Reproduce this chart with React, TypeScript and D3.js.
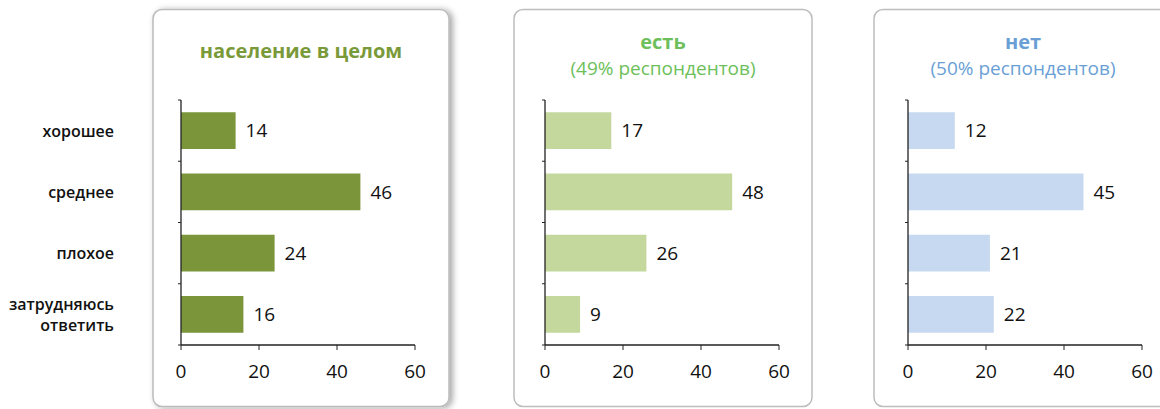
import React from "react";
import * as d3 from "d3";

const categories = ["хорошее", "среднее", "плохое", "затрудняюсь ответить"];
const totalValues = [14, 46, 24, 16];
const yesValues = [17, 48, 26, 9];
const noValues = [12, 45, 21, 22];
const xTicks = [0, 20, 40, 60];

const panels = [
  { title: "население в целом", sub: "", values: totalValues, color: "#7a953a", titleColor: "#7a9a3a", box: [153, 449], x0: 181, shadow: true },
  { title: "есть", sub: "(49% респондентов)", values: yesValues, color: "#c4d89e", titleColor: "#6cbf5a", box: [514, 812], x0: 545, shadow: false },
  { title: "нет", sub: "(50% респондентов)", values: noValues, color: "#c6d9f0", titleColor: "#6a9fd6", box: [874, 1180], x0: 908, shadow: false },
];

const font = "'Open Sans', 'Noto Sans', sans-serif";
const top = 100;
const bottom = 345;
const plotW = 234;

function Panel({ p }) {
  const x = d3.scaleLinear().domain([0, 60]).range([p.x0, p.x0 + plotW]);
  const y = d3.scaleBand().domain(categories).range([top, bottom]).paddingInner(0.4).paddingOuter(0.2);
  const cx = (p.box[0] + Math.min(p.box[1], 1170)) / 2;
  const bounds = d3.range(categories.length + 1).map(i => top + (i * (bottom - top)) / categories.length);
  return (
    <g>
      <rect x={p.box[0]} y={9.5} width={p.box[1] - p.box[0]} height={397} rx={9}
        fill="#fff" stroke={p.shadow ? "#bbb" : "#bdbdbd"} strokeWidth={1.5}
        filter={p.shadow ? "url(#shadow)" : undefined} />
      {p.sub ? (
        <g fill={p.titleColor} fontFamily={font} textAnchor="middle">
          <text x={p.box[0] + 149} y={49} fontSize={20} fontWeight="bold">{p.title}</text>
          <text x={p.box[0] + 149} y={75} fontSize={19}>{p.sub}</text>
        </g>
      ) : (
        <text x={cx} y={58} fill={p.titleColor} fontFamily={font} fontSize={20} fontWeight="bold" textAnchor="middle">{p.title}</text>
      )}
      {categories.map((c, i) => (
        <g key={c}>
          <rect x={x(0)} y={y(c)} width={x(p.values[i]) - x(0)} height={y.bandwidth()} fill={p.color} />
          <text x={x(p.values[i]) + 10} y={y(c) + y.bandwidth() / 2} dy="0.36em" fontFamily={font} fontSize={19} fill="#111">{p.values[i]}</text>
        </g>
      ))}
      <line x1={x(0)} x2={x(0)} y1={top} y2={bottom} stroke="#222" strokeWidth={1.3} />
      {bounds.map((b, i) => (
        <line key={i} x1={x(0) - 3} x2={x(0)} y1={b} y2={b} stroke="#222" strokeWidth={1} />
      ))}
      <line x1={x(0)} x2={x(60)} y1={bottom} y2={bottom} stroke="#222" strokeWidth={1.3} />
      {xTicks.map(t => (
        <g key={t}>
          <line x1={x(t)} x2={x(t)} y1={bottom} y2={bottom + 5} stroke="#222" strokeWidth={1} />
          <text x={x(t)} y={378} textAnchor="middle" fontFamily={font} fontSize={19} fill="#111">{t}</text>
        </g>
      ))}
    </g>
  );
}

export default function App() {
  const y = d3.scaleBand().domain(categories).range([top, bottom]).paddingInner(0.4).paddingOuter(0.2);
  return (
    <svg width={1160} height={409} style={{ position: "absolute", left: 0, top: 0 }}>
      <defs>
        <filter id="shadow" x="-10%" y="-10%" width="125%" height="120%">
          <feDropShadow dx={3} dy={1} stdDeviation={3} floodColor="#000" floodOpacity={0.35} />
        </filter>
      </defs>
      <rect width={1160} height={409} fill="#fff" />
      {categories.map(c => {
        const words = c === "затрудняюсь ответить" ? ["затрудняюсь", "ответить"] : [c];
        const cy = y(c) + y.bandwidth() / 2;
        return (
          <text key={c} x={114} textAnchor="end" fontFamily={font} fontSize={16} fontWeight={600} fill="#111">
            {words.map((w, i) => (
              <tspan key={w} x={114} y={cy + 6 + (i - (words.length - 1) / 2) * 21}>{w}</tspan>
            ))}
          </text>
        );
      })}
      {panels.map(p => <Panel key={p.title} p={p} />)}
    </svg>
  );
}
